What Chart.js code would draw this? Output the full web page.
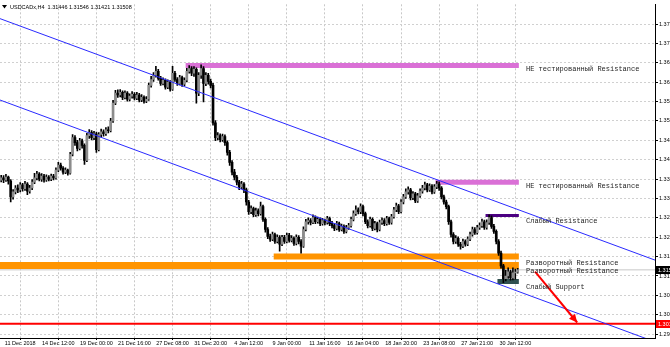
<!DOCTYPE html>
<html>
<head>
<meta charset="utf-8">
<script src="https://cdn.jsdelivr.net/npm/chart.js@4.4.0/dist/chart.umd.min.js"></script>
<style>
  html, body { margin: 0; padding: 0; background: #fff; overflow: hidden; }
  #wrap { width: 670px; height: 347px; }
</style>
</head>
<body>
<div id="wrap"><canvas id="chart" width="670" height="347"></canvas></div>
<script>
const symbol = 'USDCADx,H4';
const lastQuote = ['1.31446', '1.31546', '1.31421', '1.31508'];

// H4 candles, 11 Dec 2018 .. 31 Jan 2019
const opens = [
  1.3382, 1.3388, 1.3383, 1.3390, 1.3380, 1.3339, 1.3352, 1.3362, 1.3357, 1.3370,
  1.3360, 1.3372, 1.3354, 1.3362, 1.3377, 1.3388, 1.3398, 1.3385, 1.3393, 1.3383,
  1.3390, 1.3385, 1.3393, 1.3388, 1.3408, 1.3421, 1.3413, 1.3403, 1.3408, 1.3400,
  1.3449, 1.3492, 1.3479, 1.3464, 1.3484, 1.3472, 1.3433, 1.3497, 1.3505, 1.3492,
  1.3502, 1.3461, 1.3500, 1.3507, 1.3502, 1.3512, 1.3510, 1.3535, 1.3581, 1.3607,
  1.3602, 1.3609, 1.3596, 1.3607, 1.3591, 1.3599, 1.3604, 1.3594, 1.3602, 1.3589,
  1.3596, 1.3586, 1.3591, 1.3627, 1.3642, 1.3653, 1.3663, 1.3645, 1.3632, 1.3640,
  1.3622, 1.3635, 1.3617, 1.3658, 1.3642, 1.3632, 1.3647, 1.3630, 1.3640, 1.3663,
  1.3670, 1.3658, 1.3668, 1.3607, 1.3653, 1.3670, 1.3632, 1.3653, 1.3637, 1.3627,
  1.3530, 1.3492, 1.3497, 1.3487, 1.3495, 1.3479, 1.3454, 1.3428, 1.3403, 1.3390,
  1.3377, 1.3365, 1.3372, 1.3357, 1.3326, 1.3301, 1.3309, 1.3293, 1.3303, 1.3296,
  1.3314, 1.3281, 1.3255, 1.3237, 1.3230, 1.3242, 1.3224, 1.3235, 1.3217, 1.3235,
  1.3224, 1.3240, 1.3227, 1.3232, 1.3219, 1.3235, 1.3224, 1.3212, 1.3255, 1.3275,
  1.3278, 1.3273, 1.3286, 1.3275, 1.3281, 1.3270, 1.3278, 1.3273, 1.3283, 1.3270,
  1.3265, 1.3258, 1.3270, 1.3255, 1.3263, 1.3250, 1.3260, 1.3265, 1.3281, 1.3296,
  1.3306, 1.3301, 1.3314, 1.3296, 1.3275, 1.3265, 1.3281, 1.3258, 1.3270, 1.3255,
  1.3273, 1.3278, 1.3270, 1.3283, 1.3273, 1.3288, 1.3306, 1.3316, 1.3301, 1.3326,
  1.3339, 1.3352, 1.3357, 1.3337, 1.3347, 1.3329, 1.3342, 1.3354, 1.3362, 1.3370,
  1.3357, 1.3367, 1.3352, 1.3365, 1.3372, 1.3362, 1.3339, 1.3326, 1.3314, 1.3275,
  1.3242, 1.3224, 1.3232, 1.3217, 1.3212, 1.3224, 1.3217, 1.3230, 1.3242, 1.3255,
  1.3247, 1.3260, 1.3265, 1.3275, 1.3260, 1.3273, 1.3286, 1.3263, 1.3250, 1.3224,
  1.3194, 1.3161, 1.3128, 1.3135, 1.3146, 1.3130, 1.3143, 1.3145
];
const highs = [
  1.3395, 1.3394, 1.3397, 1.3393, 1.3384, 1.3358, 1.3368, 1.3370, 1.3376, 1.3374,
  1.3379, 1.3376, 1.3369, 1.3384, 1.3400, 1.3405, 1.3402, 1.3399, 1.3397, 1.3396,
  1.3394, 1.3398, 1.3397, 1.3414, 1.3428, 1.3426, 1.3417, 1.3414, 1.3411, 1.3454,
  1.3500, 1.3497, 1.3485, 1.3490, 1.3488, 1.3476, 1.3503, 1.3513, 1.3510, 1.3508,
  1.3506, 1.3505, 1.3514, 1.3512, 1.3518, 1.3520, 1.3542, 1.3588, 1.3614, 1.3615,
  1.3616, 1.3613, 1.3613, 1.3611, 1.3605, 1.3611, 1.3608, 1.3609, 1.3606, 1.3603,
  1.3600, 1.3598, 1.3633, 1.3650, 1.3660, 1.3676, 1.3668, 1.3650, 1.3646, 1.3644,
  1.3641, 1.3639, 1.3676, 1.3663, 1.3647, 1.3653, 1.3651, 1.3646, 1.3671, 1.3678,
  1.3675, 1.3675, 1.3672, 1.3660, 1.3680, 1.3675, 1.3660, 1.3658, 1.3643, 1.3632,
  1.3536, 1.3505, 1.3502, 1.3501, 1.3499, 1.3484, 1.3459, 1.3433, 1.3410, 1.3395,
  1.3382, 1.3379, 1.3376, 1.3362, 1.3330, 1.3316, 1.3313, 1.3310, 1.3308, 1.3326,
  1.3318, 1.3285, 1.3260, 1.3243, 1.3248, 1.3246, 1.3241, 1.3239, 1.3240, 1.3240,
  1.3246, 1.3245, 1.3239, 1.3236, 1.3241, 1.3239, 1.3229, 1.3262, 1.3281, 1.3285,
  1.3283, 1.3293, 1.3290, 1.3287, 1.3285, 1.3284, 1.3282, 1.3289, 1.3287, 1.3276,
  1.3270, 1.3276, 1.3274, 1.3269, 1.3267, 1.3266, 1.3271, 1.3287, 1.3303, 1.3316,
  1.3311, 1.3321, 1.3318, 1.3300, 1.3280, 1.3287, 1.3285, 1.3276, 1.3274, 1.3279,
  1.3285, 1.3283, 1.3289, 1.3287, 1.3294, 1.3312, 1.3323, 1.3320, 1.3332, 1.3346,
  1.3360, 1.3365, 1.3361, 1.3353, 1.3351, 1.3348, 1.3360, 1.3369, 1.3377, 1.3374,
  1.3373, 1.3371, 1.3371, 1.3379, 1.3378, 1.3366, 1.3344, 1.3331, 1.3318, 1.3279,
  1.3247, 1.3239, 1.3236, 1.3222, 1.3230, 1.3228, 1.3236, 1.3248, 1.3261, 1.3260,
  1.3266, 1.3272, 1.3282, 1.3279, 1.3280, 1.3293, 1.3290, 1.3268, 1.3254, 1.3229,
  1.3199, 1.3165, 1.3150, 1.3156, 1.3150, 1.3156, 1.3153, 1.3155
];
const lows = [
  1.3378, 1.3376, 1.3379, 1.3372, 1.3326, 1.3333, 1.3347, 1.3350, 1.3352, 1.3354,
  1.3356, 1.3345, 1.3349, 1.3358, 1.3373, 1.3383, 1.3380, 1.3379, 1.3377, 1.3379,
  1.3380, 1.3381, 1.3383, 1.3385, 1.3404, 1.3408, 1.3398, 1.3399, 1.3395, 1.3398,
  1.3445, 1.3472, 1.3458, 1.3460, 1.3465, 1.3423, 1.3430, 1.3490, 1.3486, 1.3487,
  1.3454, 1.3458, 1.3494, 1.3496, 1.3498, 1.3504, 1.3507, 1.3531, 1.3577, 1.3596,
  1.3597, 1.3590, 1.3592, 1.3586, 1.3587, 1.3594, 1.3589, 1.3590, 1.3584, 1.3585,
  1.3581, 1.3582, 1.3588, 1.3622, 1.3637, 1.3648, 1.3640, 1.3627, 1.3628, 1.3617,
  1.3618, 1.3612, 1.3614, 1.3637, 1.3627, 1.3628, 1.3624, 1.3626, 1.3636, 1.3658,
  1.3652, 1.3650, 1.3581, 1.3600, 1.3645, 1.3584, 1.3626, 1.3630, 1.3620, 1.3524,
  1.3484, 1.3486, 1.3481, 1.3482, 1.3472, 1.3447, 1.3420, 1.3396, 1.3383, 1.3370,
  1.3358, 1.3360, 1.3350, 1.3318, 1.3294, 1.3296, 1.3288, 1.3289, 1.3290, 1.3292,
  1.3276, 1.3248, 1.3231, 1.3224, 1.3226, 1.3219, 1.3220, 1.3199, 1.3213, 1.3219,
  1.3220, 1.3222, 1.3223, 1.3214, 1.3215, 1.3218, 1.3194, 1.3209, 1.3251, 1.3269,
  1.3267, 1.3270, 1.3270, 1.3271, 1.3265, 1.3266, 1.3267, 1.3269, 1.3265, 1.3259,
  1.3252, 1.3254, 1.3250, 1.3251, 1.3245, 1.3246, 1.3255, 1.3261, 1.3277, 1.3291,
  1.3295, 1.3296, 1.3290, 1.3270, 1.3259, 1.3261, 1.3252, 1.3254, 1.3249, 1.3251,
  1.3268, 1.3265, 1.3266, 1.3268, 1.3269, 1.3284, 1.3301, 1.3296, 1.3298, 1.3321,
  1.3335, 1.3346, 1.3331, 1.3332, 1.3324, 1.3325, 1.3338, 1.3349, 1.3357, 1.3352,
  1.3353, 1.3347, 1.3348, 1.3360, 1.3356, 1.3334, 1.3320, 1.3308, 1.3268, 1.3235,
  1.3218, 1.3219, 1.3211, 1.3204, 1.3208, 1.3212, 1.3213, 1.3226, 1.3238, 1.3242,
  1.3243, 1.3255, 1.3260, 1.3255, 1.3256, 1.3268, 1.3258, 1.3245, 1.3218, 1.3188,
  1.3155, 1.3118, 1.3122, 1.3129, 1.3124, 1.3125, 1.3127, 1.3142
];
const closes = [
  1.3388, 1.3383, 1.3390, 1.3380, 1.3339, 1.3352, 1.3362, 1.3357, 1.3370, 1.3360,
  1.3372, 1.3354, 1.3362, 1.3377, 1.3388, 1.3398, 1.3385, 1.3393, 1.3383, 1.3390,
  1.3385, 1.3393, 1.3388, 1.3408, 1.3421, 1.3413, 1.3403, 1.3408, 1.3400, 1.3449,
  1.3492, 1.3479, 1.3464, 1.3484, 1.3472, 1.3433, 1.3497, 1.3505, 1.3492, 1.3502,
  1.3461, 1.3500, 1.3507, 1.3502, 1.3512, 1.3510, 1.3535, 1.3581, 1.3607, 1.3602,
  1.3609, 1.3596, 1.3607, 1.3591, 1.3599, 1.3604, 1.3594, 1.3602, 1.3589, 1.3596,
  1.3586, 1.3591, 1.3627, 1.3642, 1.3653, 1.3663, 1.3645, 1.3632, 1.3640, 1.3622,
  1.3635, 1.3617, 1.3658, 1.3642, 1.3632, 1.3647, 1.3630, 1.3640, 1.3663, 1.3670,
  1.3658, 1.3668, 1.3607, 1.3653, 1.3670, 1.3632, 1.3653, 1.3637, 1.3627, 1.3530,
  1.3492, 1.3497, 1.3487, 1.3495, 1.3479, 1.3454, 1.3428, 1.3403, 1.3390, 1.3377,
  1.3365, 1.3372, 1.3357, 1.3326, 1.3301, 1.3309, 1.3293, 1.3303, 1.3296, 1.3314,
  1.3281, 1.3255, 1.3237, 1.3230, 1.3242, 1.3224, 1.3235, 1.3217, 1.3235, 1.3224,
  1.3240, 1.3227, 1.3232, 1.3219, 1.3235, 1.3224, 1.3212, 1.3255, 1.3275, 1.3278,
  1.3273, 1.3286, 1.3275, 1.3281, 1.3270, 1.3278, 1.3273, 1.3283, 1.3270, 1.3265,
  1.3258, 1.3270, 1.3255, 1.3263, 1.3250, 1.3260, 1.3265, 1.3281, 1.3296, 1.3306,
  1.3301, 1.3314, 1.3296, 1.3275, 1.3265, 1.3281, 1.3258, 1.3270, 1.3255, 1.3273,
  1.3278, 1.3270, 1.3283, 1.3273, 1.3288, 1.3306, 1.3316, 1.3301, 1.3326, 1.3339,
  1.3352, 1.3357, 1.3337, 1.3347, 1.3329, 1.3342, 1.3354, 1.3362, 1.3370, 1.3357,
  1.3367, 1.3352, 1.3365, 1.3372, 1.3362, 1.3339, 1.3326, 1.3314, 1.3275, 1.3242,
  1.3224, 1.3232, 1.3217, 1.3212, 1.3224, 1.3217, 1.3230, 1.3242, 1.3255, 1.3247,
  1.3260, 1.3265, 1.3275, 1.3260, 1.3273, 1.3286, 1.3263, 1.3250, 1.3224, 1.3194,
  1.3161, 1.3128, 1.3135, 1.3146, 1.3130, 1.3143, 1.3145, 1.3151
];

const timeTickBars = [8, 24, 40, 56, 72, 88, 104, 120, 136, 152, 168, 184, 200, 216];
const timeLabels = ['11 Dec 2018', '14 Dec 12:00', '19 Dec 00:00', '21 Dec 16:00', '27 Dec 08:00',
  '31 Dec 20:00', '4 Jan 12:00', '9 Jan 00:00', '11 Jan 16:00', '16 Jan 04:00', '18 Jan 20:00',
  '23 Jan 08:00', '27 Jan 21:00', '30 Jan 12:00'];
const priceTicks = [1.2985, 1.3035, 1.3085, 1.3135, 1.3185, 1.3235, 1.3285, 1.3335, 1.3385,
  1.3435, 1.3485, 1.3535, 1.3585, 1.3635, 1.3685, 1.3735, 1.3785];

// drawn objects (bar index / price)
const levelNames = ['НЕ тестированный Resistance', 'НЕ тестированный Resistance', 'Слабый Resistance',
  'Разворотный Resistance', 'Разворотный Resistance', 'Слабый Support'];
const zoneStart = [77.5, 182.5, 203.5, 114.5, -0.5, 208.5];
const zoneEnd = [217.5, 217.5, 217.5, 217.5, 217.5, 217.5];
const zonePrice = [1.3678, 1.3377, 1.3291, 1.3185, 1.3162, 1.3121];
const labelBar = 220.5;
const labelPrice = [1.3668, 1.3367, 1.3276, 1.3168, 1.3148, 1.3105];
const upperChannel = [[-0.5, 1.3799], [274.7, 1.3176]];
const lowerChannel = [[-0.5, 1.3589], [274.7, 1.2965]];
const supportPrice = 1.3012;
const supportLabel = '1.30120';
const arrowLine = [[224.3, 1.3146], [242, 1.3015]];
const currentPrice = 1.31508;

const X_MIN = -0.5, X_MAX = 274.7;
const zoneColors = ['#da70d6', '#da70d6', '#4b0082', '#ff9400', '#ff9400', '#2f4f4f'];
const zoneWidths = [5, 5, 3, 6, 7, 5];

const bars = opens.map((_, i) => i);
const bull = closes.map((c, i) => c >= opens[i]);

const zoneSets = zonePrice.map((p, i) => ({
  type: 'line',
  data: [{ x: zoneStart[i], y: p }, { x: zoneEnd[i], y: p }],
  borderColor: zoneColors[i],
  borderWidth: zoneWidths[i],
  pointRadius: 0,
  order: 5
}));

const overlay = {
  id: 'overlay',
  afterDatasetsDraw(chart) {
    const { ctx, scales: { x, y } } = chart;
    ctx.save();
    // arrow head
    const x1 = x.getPixelForValue(arrowLine[0][0]), y1 = y.getPixelForValue(arrowLine[0][1]);
    const x2 = x.getPixelForValue(arrowLine[1][0]), y2 = y.getPixelForValue(arrowLine[1][1]);
    const a = Math.atan2(y2 - y1, x2 - x1);
    ctx.fillStyle = '#ff0000';
    ctx.beginPath();
    ctx.moveTo(x2, y2);
    ctx.lineTo(x2 - 9 * Math.cos(a - 0.45), y2 - 9 * Math.sin(a - 0.45));
    ctx.lineTo(x2 - 9 * Math.cos(a + 0.45), y2 - 9 * Math.sin(a + 0.45));
    ctx.closePath();
    ctx.fill();
    // level captions
    ctx.font = '7px "Liberation Mono"';
    ctx.fillStyle = '#1e1e1e';
    ctx.textBaseline = 'middle';
    ctx.textAlign = 'left';
    levelNames.forEach((t, i) => {
      ctx.fillText(t, x.getPixelForValue(labelBar), y.getPixelForValue(labelPrice[i]));
    });
    ctx.restore();
  },
  afterDraw(chart) {
    const { ctx, chartArea, scales: { y } } = chart;
    ctx.save();
    ctx.font = '5.5px "Liberation Sans"';
    ctx.textBaseline = 'middle';
    ctx.textAlign = 'left';
    const box = (price, bg, text) => {
      const py = Math.round(y.getPixelForValue(price));
      ctx.fillStyle = bg;
      ctx.fillRect(chartArea.right + 1, py - 4, 20, 8);
      ctx.fillStyle = '#fff';
      ctx.fillText(text, chartArea.right + 3, py);
    };
    box(currentPrice, '#000', currentPrice.toFixed(5));
    box(supportPrice, '#ff0000', supportLabel);
    // title
    ctx.fillStyle = '#000';
    ctx.beginPath();
    ctx.moveTo(2, 5); ctx.lineTo(7, 5); ctx.lineTo(4.5, 8.5);
    ctx.closePath(); ctx.fill();
    ctx.fillText(symbol + '  ' + lastQuote.join(' '), 10, 7);
    ctx.restore();
  }
};

new Chart(document.getElementById('chart'), {
  type: 'bar',
  data: {
    datasets: [
      {
        type: 'line',
        data: arrowLine.map(p => ({ x: p[0], y: p[1] })),
        borderColor: '#ff0000', borderWidth: 2, pointRadius: 0, order: 0
      },
      {
        type: 'line',
        data: upperChannel.map(p => ({ x: p[0], y: p[1] })),
        borderColor: '#2a2aff', borderWidth: 1, pointRadius: 0, order: 0
      },
      {
        type: 'line',
        data: lowerChannel.map(p => ({ x: p[0], y: p[1] })),
        borderColor: '#2a2aff', borderWidth: 1, pointRadius: 0, order: 0
      },
      {
        type: 'line',
        data: [{ x: X_MIN, y: supportPrice }, { x: X_MAX, y: supportPrice }],
        borderColor: '#ff0000', borderWidth: 2, pointRadius: 0, order: 1
      },
      {
        data: bars.map(i => ({ x: i, y: [opens[i], closes[i]] })),
        backgroundColor: bull.map(b => b ? '#8c8c8c' : '#000'),
        barThickness: 2, grouped: false, order: 2
      },
      {
        data: bars.map(i => ({ x: i, y: [lows[i], highs[i]] })),
        backgroundColor: '#000',
        barThickness: 1, grouped: false, order: 3
      },
      ...zoneSets,
      {
        type: 'line',
        data: [{ x: X_MIN, y: currentPrice }, { x: X_MAX, y: currentPrice }],
        borderColor: '#c8c8c8', borderWidth: 1, pointRadius: 0, order: 6
      }
    ]
  },
  options: {
    responsive: false,
    animation: false,
    events: [],
    layout: { padding: { top: 1, left: 0, right: 0, bottom: 0 } },
    plugins: { legend: { display: false }, tooltip: { enabled: false } },
    scales: {
      x: {
        type: 'linear', min: X_MIN, max: X_MAX, offset: false,
        afterBuildTicks: s => { s.ticks = timeTickBars.map(v => ({ value: v })); },
        afterFit: s => { s.height = 9; },
        ticks: {
          autoSkip: false, maxRotation: 0, padding: 0,
          font: { family: 'Liberation Sans', size: 5.5 }, color: '#000',
          callback: (v, i) => timeLabels[i]
        },
        grid: { color: '#c8c8c8', offset: false, tickLength: 2, tickColor: '#000' },
        border: { color: '#000', dash: [2, 2] }
      },
      y: {
        position: 'right', min: 1.2975, max: 1.3836, z: 1,
        afterBuildTicks: s => { s.ticks = priceTicks.map(v => ({ value: v })); },
        afterFit: s => { s.width = 15; },
        ticks: {
          autoSkip: false, padding: 1,
          font: { family: 'Liberation Sans', size: 5.5 }, color: '#000',
          callback: v => v.toFixed(5)
        },
        grid: { color: '#d0d0d0', tickLength: 3, tickColor: '#000' },
        border: { color: '#000', dash: [2, 2] }
      }
    }
  },
  plugins: [overlay]
});
</script>
</body>
</html>
